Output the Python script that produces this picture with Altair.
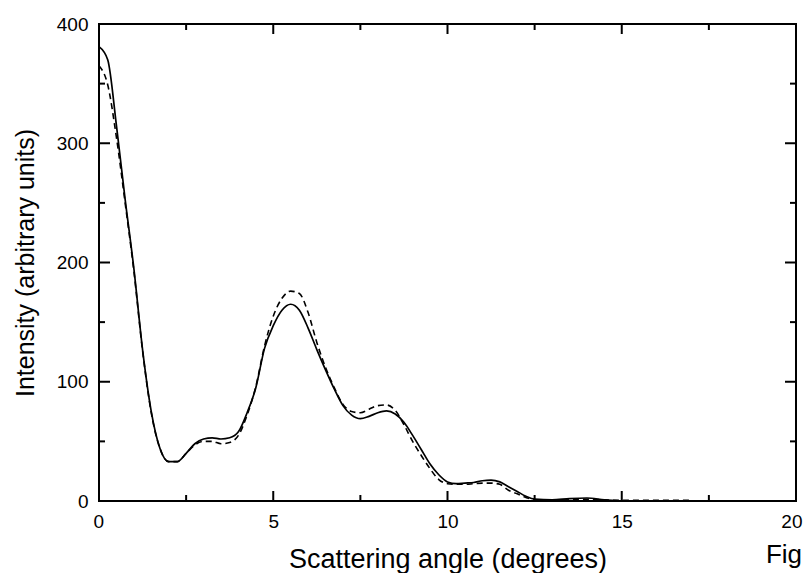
import altair as alt
import pandas as pd

# ---- data ----
angle_solid = [0, 0.25, 0.5, 0.75, 1.0, 1.25, 1.5, 1.75, 2.0, 2.25, 2.5, 2.75, 3.0, 3.25, 3.5, 3.75,
               4.0, 4.25, 4.5, 4.75, 5.0, 5.25, 5.5, 5.75, 6.0, 6.25, 6.5, 6.75, 7.0, 7.25, 7.5, 7.75,
               8.0, 8.25, 8.5, 8.75, 9.0, 9.25, 9.5, 9.75, 10.0, 10.25, 10.5, 10.75, 11.0, 11.25, 11.5,
               11.75, 12.0, 12.25, 12.5, 13.0, 13.5, 14.0, 14.5, 15.0]
intensity_solid = [381, 370, 315, 253, 195, 127, 75, 44, 33, 33, 40, 48, 52, 53, 52, 53,
                   58, 74, 95, 128, 147, 160, 165, 160, 145, 127, 110, 94, 80, 72, 69, 71,
                   74, 75.5, 73, 66, 55, 43, 31, 22, 16, 14.5, 15, 15.5, 17, 17.5, 16,
                   12, 8, 4, 1.5, 1, 2, 2.5, 1, 0]

angle_dashed = [0, 0.25, 0.5, 0.75, 1.0, 1.25, 1.5, 1.75, 2.0, 2.25, 2.5, 2.75, 3.0, 3.25, 3.5, 3.75,
                4.0, 4.25, 4.5, 4.75, 5.0, 5.25, 5.5, 5.75, 6.0, 6.25, 6.5, 6.75, 7.0, 7.25, 7.5, 7.75,
                8.0, 8.25, 8.5, 8.75, 9.0, 9.25, 9.5, 9.75, 10.0, 10.25, 10.5, 10.75, 11.0, 11.25, 11.5,
                11.75, 12.0, 12.25, 12.5, 13.0, 14.0, 15.0, 16.0, 17.0]
intensity_dashed = [365, 349, 305, 250, 193, 126, 74, 44, 33, 33, 40, 47, 50, 50, 48, 49,
                    55, 72, 96, 130, 155, 170, 176, 174, 158, 133, 112, 95, 81, 75, 74, 77,
                    80, 80.5, 76, 64, 50, 38, 27, 18, 14.5, 14, 14, 14.5, 15, 15, 14,
                    9, 6, 3, 1, 0.5, 1.5, 0.5, 0.5, 0.5]

x_tick_labels = [0, 5, 10, 15, 20]
y_tick_labels = [0, 100, 200, 300, 400]
x_major_ticks = [5, 10, 15]
x_minor_ticks = [2.5, 7.5, 12.5, 17.5]
y_major_ticks = [100, 200, 300]
y_minor_ticks = [50, 150, 250, 350]

x_title = "Scattering angle (degrees)"
y_title = "Intensity (arbitrary units)"
caption = "Fig"

# ---- layout ----
W, H = 697, 477
FONT = "Liberation Sans"

solid_df = pd.DataFrame({"angle": angle_solid, "intensity": intensity_solid})
dashed_df = pd.DataFrame({"angle": angle_dashed, "intensity": intensity_dashed})

xscale = alt.Scale(domain=[0, 20], nice=False, zero=False)
yscale = alt.Scale(domain=[0, 400], nice=False, zero=False)

x_axis = alt.Axis(values=x_tick_labels, ticks=False, domain=False, grid=False,
                  labelFont=FONT, labelFontSize=19, labelColor="black", labelPadding=11,
                  labelFlush=True, labelFlushOffset=6, labelOverlap=False,
                  title=x_title, titleFont=FONT, titleFontSize=27, titleFontWeight="normal",
                  titleColor="black", titleX=W / 2, titleY=66, titleBaseline="alphabetic",
                  titleAlign="center")
y_axis = alt.Axis(values=y_tick_labels, ticks=False, domain=False, grid=False,
                  labelFont=FONT, labelFontSize=19, labelColor="black", labelPadding=11,
                  labelFlush=False, labelOverlap=False,
                  title=y_title, titleFont=FONT, titleFontSize=25, titleFontWeight="normal",
                  titleColor="black", titleAngle=270, titleX=-66, titleY=H / 2,
                  titleBaseline="alphabetic", titleAlign="center")

solid = alt.Chart(solid_df).mark_line(color="black", strokeWidth=1.7, interpolate="monotone").encode(
    x=alt.X("angle:Q", scale=xscale, axis=x_axis),
    y=alt.Y("intensity:Q", scale=yscale, axis=y_axis),
)
dashed = alt.Chart(dashed_df).mark_line(color="black", strokeWidth=1.6, strokeDash=[6, 4],
                                        interpolate="monotone").encode(
    x=alt.X("angle:Q", scale=xscale),
    y=alt.Y("intensity:Q", scale=yscale),
)

def xticks(vals, length):
    df = pd.DataFrame({"angle": vals})
    bottom = alt.Chart(df).mark_rule(color="black", strokeWidth=2).encode(
        x=alt.X("angle:Q", scale=xscale), y=alt.value(H), y2=alt.value(H - length))
    top = alt.Chart(df).mark_rule(color="black", strokeWidth=2).encode(
        x=alt.X("angle:Q", scale=xscale), y=alt.value(0), y2=alt.value(length))
    return [bottom, top]

def yticks(vals, length):
    df = pd.DataFrame({"intensity": vals})
    left = alt.Chart(df).mark_rule(color="black", strokeWidth=2).encode(
        y=alt.Y("intensity:Q", scale=yscale), x=alt.value(0), x2=alt.value(length))
    right = alt.Chart(df).mark_rule(color="black", strokeWidth=2).encode(
        y=alt.Y("intensity:Q", scale=yscale), x=alt.value(W), x2=alt.value(W - length))
    return [left, right]

cap = alt.Chart(pd.DataFrame({"t": [caption]})).mark_text(
    align="right", baseline="alphabetic", font=FONT, fontSize=26, color="black").encode(
    text="t:N", x=alt.value(W + 6), y=alt.value(539))

layers = [solid, dashed] + xticks(x_major_ticks, 10) + xticks(x_minor_ticks, 6) \
    + yticks(y_major_ticks, 11) + yticks(y_minor_ticks, 6) + [cap]

chart = alt.layer(*layers).properties(
    width=W, height=H,
    autosize=alt.AutoSizeParams(type="none"),
    padding={"left": 91, "top": 16, "right": 7, "bottom": 72},
    background="white",
).configure_view(stroke="black", strokeWidth=2)

chart.save("out.html", embed_options={"renderer": "svg", "actions": False})
